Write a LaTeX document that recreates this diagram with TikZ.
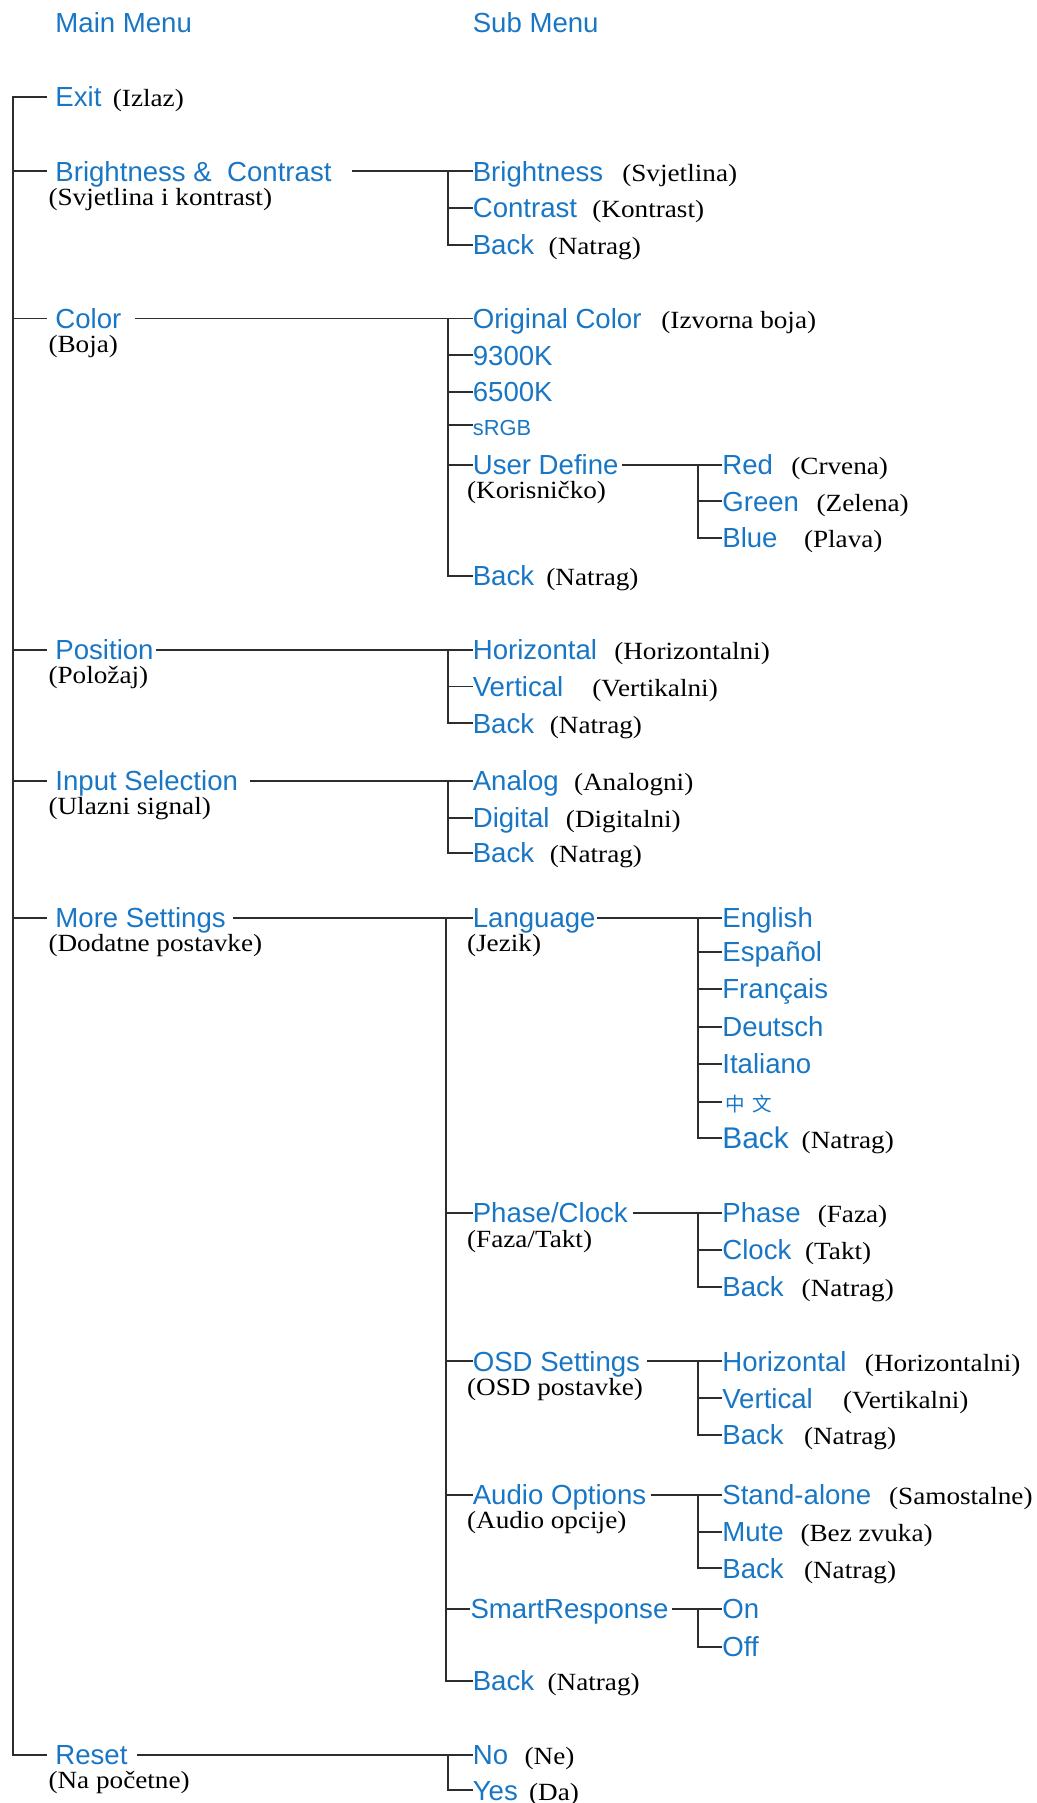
\documentclass[tikz,border=0pt]{standalone}
\usepackage{fontspec}
\newfontfamily\menufont{Liberation Sans}
\newfontfamily\transfont{Liberation Serif}[FakeStretch=1.1]
\newfontfamily\cjkfont{Noto Sans CJK SC}
\definecolor{menublue}{RGB}{25,118,196}
\definecolor{wiregray}{RGB}{45,45,45}
\tikzset{
  menu/.style={font=\menufont\fontsize{24}{28}\selectfont, text=menublue,
    inner sep=0pt, text height=17pt, text depth=0pt, anchor=west},
  trans/.style={font=\transfont\fontsize{21.5}{25}\selectfont,
    inner sep=0pt, text height=17pt, text depth=0pt, anchor=west},
  wire/.style={draw=wiregray, line width=1.7pt},
}
\begin{document}
\begin{tikzpicture}[x=1pt,y=-1pt]
\useasboundingbox (0,0) rectangle (901,1568);

% Headings
\node[menu] (mainhead) at (48,20) {Main Menu};
\node[menu] (subhead) at (411,20) {Sub Menu};

% Trunk positions
\coordinate (main) at (11,0);
\coordinate (sub) at (390,0);
\coordinate (subsub) at (607,0);

% Exit
\node[menu] (exit) at (48,84) {Exit};
\node[trans] (exit-t) at (98,84) {(Izlaz)};

% Brightness & Contrast
\node[menu] (bc) at (48,149) {Brightness \&\ \ Contrast};
\node[trans] (bc-t) at ([shift={(-6,21)}]bc.west) {(Svjetlina i kontrast)};
\node[menu] (bri) at (411,149) {Brightness};
\node[trans] (bri-t) at (541,149) {(Svjetlina)};
\node[menu] (con) at (411,181) {Contrast};
\node[trans] (con-t) at (515,181) {(Kontrast)};
\node[menu] (bback) at (411,213) {Back};
\node[trans] (bback-t) at (477,213) {(Natrag)};

% Color
\node[menu] (col) at (48,277) {Color};
\node[trans] (col-t) at ([shift={(-6,21)}]col.west) {(Boja)};
\node[menu] (orig) at (411,277) {Original Color};
\node[trans] (orig-t) at (575,277) {(Izvorna boja)};
\node[menu] (k93) at (411,309) {9300K};
\node[menu] (k65) at (411,341) {6500K};
\node[menu, font=\menufont\fontsize{19}{22}\selectfont] (srgb) at (411,370) {sRGB};
\node[menu] (user) at (411,404) {User Define};
\node[trans] (user-t) at ([shift={(-5,21)}]user.west) {(Korisničko)};
\node[menu] (red) at (628,404) {Red};
\node[trans] (red-t) at (688,404) {(Crvena)};
\node[menu] (green) at (628,436) {Green};
\node[trans] (green-t) at (710,436) {(Zelena)};
\node[menu] (blue) at (628,468) {Blue};
\node[trans] (blue-t) at (699,468) {(Plava)};
\node[menu] (cback) at (411,501) {Back};
\node[trans] (cback-t) at (475,501) {(Natrag)};

% Position
\node[menu] (pos) at (48,565) {Position};
\node[trans] (pos-t) at ([shift={(-6,21)}]pos.west) {(Položaj)};
\node[menu] (hor) at (411,565) {Horizontal};
\node[trans] (hor-t) at (534,565) {(Horizontalni)};
\node[menu] (ver) at (411,597) {Vertical};
\node[trans] (ver-t) at (515,597) {(Vertikalni)};
\node[menu] (pback) at (411,629) {Back};
\node[trans] (pback-t) at (478,629) {(Natrag)};

% Input Selection
\node[menu] (inp) at (48,679) {Input Selection};
\node[trans] (inp-t) at ([shift={(-6,21)}]inp.west) {(Ulazni signal)};
\node[menu] (ana) at (411,679) {Analog};
\node[trans] (ana-t) at (499,679) {(Analogni)};
\node[menu] (dig) at (411,711) {Digital};
\node[trans] (dig-t) at (492,711) {(Digitalni)};
\node[menu] (iback) at (411,742) {Back};
\node[trans] (iback-t) at (478,742) {(Natrag)};

% More Settings
\node[menu] (more) at (48,798) {More Settings};
\node[trans] (more-t) at ([shift={(-6,21)}]more.west) {(Dodatne postavke)};
\node[menu] (lang) at (411,798) {Language};
\node[trans] (lang-t) at ([shift={(-5,21)}]lang.west) {(Jezik)};
\node[menu] (eng) at (628,798) {English};
\node[menu] (esp) at (628,828) {Español};
\node[menu] (fra) at (628,860) {Français};
\node[menu] (deu) at (628,893) {Deutsch};
\node[menu] (ita) at (628,925) {Italiano};
\node[menu, font=\cjkfont\fontsize{17}{20}\selectfont] (zh) at (631,958) {中\hspace{6pt}文};
\node[menu, font=\menufont\fontsize{26}{30}\selectfont] (lback) at (628,990) {Back};
\node[trans] (lback-t) at (697,990) {(Natrag)};

\node[menu] (phase) at (411,1055) {Phase/Clock};
\node[trans] (phase-t) at ([shift={(-5,21)}]phase.west) {(Faza/Takt)};
\node[menu] (ph) at (628,1055) {Phase};
\node[trans] (ph-t) at (711,1055) {(Faza)};
\node[menu] (clk) at (628,1087) {Clock};
\node[trans] (clk-t) at (700,1087) {(Takt)};
\node[menu] (phback) at (628,1119) {Back};
\node[trans] (phback-t) at (697,1119) {(Natrag)};

\node[menu] (osd) at (411,1184) {OSD Settings};
\node[trans] (osd-t) at ([shift={(-5,21)}]osd.west) {(OSD postavke)};
\node[menu] (oh) at (628,1184) {Horizontal};
\node[trans] (oh-t) at (752,1184) {(Horizontalni)};
\node[menu] (ov) at (628,1216) {Vertical};
\node[trans] (ov-t) at (733,1216) {(Vertikalni)};
\node[menu] (oback) at (628,1248) {Back};
\node[trans] (oback-t) at (699,1248) {(Natrag)};

\node[menu] (audio) at (411,1300) {Audio Options};
\node[trans] (audio-t) at ([shift={(-5,21)}]audio.west) {(Audio opcije)};
\node[menu] (sa) at (628,1300) {Stand-alone};
\node[trans] (sa-t) at (773,1300) {(Samostalne)};
\node[menu] (mute) at (628,1332) {Mute};
\node[trans] (mute-t) at (696,1332) {(Bez zvuka)};
\node[menu] (aback) at (628,1364) {Back};
\node[trans] (aback-t) at (699,1364) {(Natrag)};

\node[menu] (smart) at (409,1399) {SmartResponse};
\node[menu] (on) at (628,1399) {On};
\node[menu] (off) at (628,1432) {Off};

\node[menu] (mback) at (411,1462) {Back};
\node[trans] (mback-t) at (476,1462) {(Natrag)};

% Reset
\node[menu] (reset) at (48,1526) {Reset};
\node[trans] (reset-t) at ([shift={(-6,21)}]reset.west) {(Na početne)};
\node[menu] (no) at (411,1526) {No};
\node[trans] (no-t) at (456,1526) {(Ne)};
\node[menu] (yes) at (411,1557) {Yes};
\node[trans] (yes-t) at (460,1557) {(Da)};

% Main menu trunk
\draw[wire] ([xshift=-7]exit.west) -| (main |- reset.west) -- ([xshift=-7]reset.west);
\foreach \n in {bc,col,pos,inp,more}
  \draw[wire] (main |- \n.west) -- ([xshift=-7]\n.west);

% Sub menu links
\draw[wire] ([xshift=18]bc.east) -- (bri.west);
\draw[wire] (sub |- bri.west) |- (bback.west);
\draw[wire] (sub |- con.west) -- (con.west);

\draw[wire] ([xshift=12]col.east) -- (orig.west);
\draw[wire] (sub |- orig.west) |- (cback.west);
\foreach \n in {k93,k65,srgb,user}
  \draw[wire] (sub |- \n.west) -- (\n.west);
\draw[wire] ([xshift=3]user.east) -- (red.west);
\draw[wire] (subsub |- red.west) |- (blue.west);
\draw[wire] (subsub |- green.west) -- (green.west);

\draw[wire] ([xshift=2]pos.east) -- (hor.west);
\draw[wire] (sub |- hor.west) |- (pback.west);
\draw[wire] (sub |- ver.west) -- (ver.west);

\draw[wire] ([xshift=10]inp.east) -- (ana.west);
\draw[wire] (sub |- ana.west) |- (iback.west);
\draw[wire] (sub |- dig.west) -- (dig.west);

\draw[wire] ([xshift=6]more.east) -- (lang.west);
\draw[wire] ([xshift=-2]sub |- lang.west) |- (mback.west);
\foreach \n in {phase,osd,audio,smart}
  \draw[wire] ([xshift=-2]sub |- \n.west) -- (\n.west);

\draw[wire] ([xshift=1]lang.east) -- (eng.west);
\draw[wire] (subsub |- eng.west) |- (lback.west);
\foreach \n in {esp,fra,deu,ita,zh}
  \draw[wire] (subsub |- \n.west) -- ([xshift=-3]zh.west |- \n.west);

\draw[wire] ([xshift=4]phase.east) -- (ph.west);
\draw[wire] (subsub |- ph.west) |- (phback.west);
\draw[wire] (subsub |- clk.west) -- (clk.west);

\draw[wire] ([xshift=6]osd.east) -- (oh.west);
\draw[wire] (subsub |- oh.west) |- (oback.west);
\draw[wire] (subsub |- ov.west) -- (ov.west);

\draw[wire] ([xshift=4]audio.east) -- (sa.west);
\draw[wire] (subsub |- sa.west) |- (aback.west);
\draw[wire] (subsub |- mute.west) -- (mute.west);

\draw[wire] ([xshift=3]smart.east) -- (on.west);
\draw[wire] (subsub |- on.west) |- (off.west);

\draw[wire] ([xshift=8]reset.east) -- (no.west);
\draw[wire] (sub |- no.west) |- (yes.west);
\end{tikzpicture}
\end{document}
